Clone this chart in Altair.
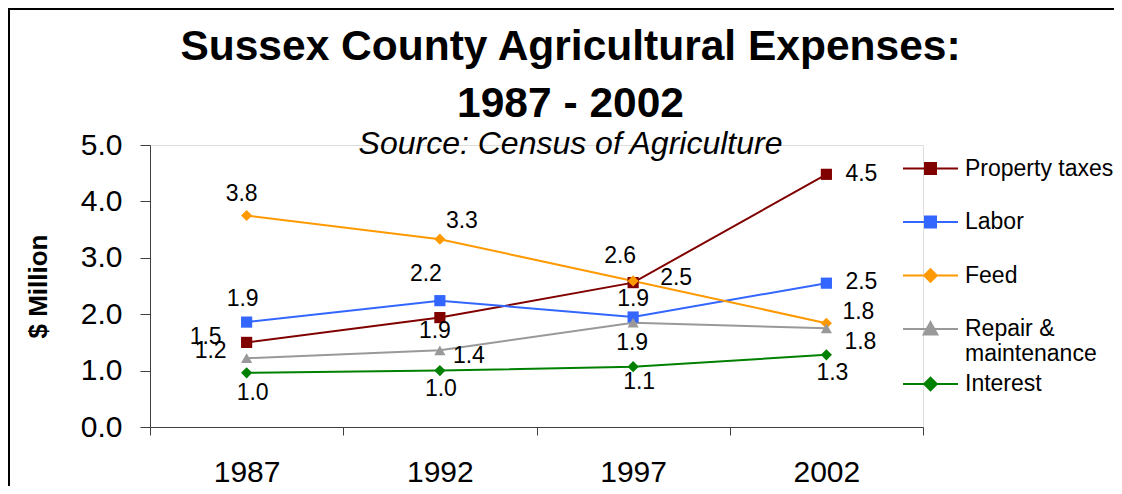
import altair as alt
import pandas as pd

years = ["1987", "1992", "1997", "2002"]
series = ["Property taxes", "Labor", "Feed", "Repair & maintenance", "Interest"]
property_taxes = [1.50, 1.94, 2.56, 4.48]
labor = [1.86, 2.24, 1.95, 2.55]
feed = [3.75, 3.33, 2.59, 1.84]
repair = [1.22, 1.36, 1.85, 1.75]
interest = [0.96, 1.00, 1.07, 1.28]
property_labels = ["1.5", "1.9", "2.5", "4.5"]
labor_labels = ["1.9", "2.2", "1.9", "2.5"]
feed_labels = ["3.8", "3.3", "2.6", "1.8"]
repair_labels = ["1.2", "1.4", "1.9", "1.8"]
interest_labels = ["1.0", "1.0", "1.1", "1.3"]

# styling (kept apart from the data)
colors = ["#800000", "#3366FF", "#FF9900", "#999999", "#008000"]
marker_shapes = ["square", "square", "diamond", "triangle-up", "diamond"]
marker_sizes = [125, 125, 165, 175, 165]
legend_shapes = [
    "M-1,0H1M-0.2,-0.2H0.2V0.2H-0.2Z",
    "M-1,0H1M-0.2,-0.2H0.2V0.2H-0.2Z",
    "M-1,0H1M0,-0.23L0.23,0L0,0.23L-0.23,0Z",
    "M-1,0H1M0,-0.25L0.25,0.2L-0.25,0.2Z",
    "M-1,0H1M0,-0.23L0.23,0L0,0.23L-0.23,0Z",
]
# data label placement offsets in pixels (dx, dy)
label_offsets = {
    "Property taxes": [(-41, -5), (-5, 13), (43, -5), (35, 0)],
    "Labor": [(-4, -23), (-14, -27), (0, -18), (35, -1)],
    "Feed": [(-5, -22), (22, -18), (-13, -25), (32, -11)],
    "Repair & maintenance": [(-36, -7), (29, 6), (-1, 20), (34, 14)],
    "Interest": [(6, 20), (1, 18), (6, 15), (6, 18)],
}

FONT = "Liberation Sans"

rows = []
for s, vals, labs in zip(
    series,
    [property_taxes, labor, feed, repair, interest],
    [property_labels, labor_labels, feed_labels, repair_labels, interest_labels],
):
    for i, yr in enumerate(years):
        rows.append({"series": s, "year": yr, "value": vals[i], "label": labs[i]})
df = pd.DataFrame(rows)

W, H = 773, 282

x_enc = alt.X(
    "year:N",
    sort=years,
    bandPosition=0.5,
    scale=alt.Scale(type="band", domain=years, paddingInner=0, paddingOuter=0),
    axis=alt.Axis(
        title=None,
        tickBand="extent",
        tickSize=8,
        labelFontSize=30,
        labelFont=FONT,
        labelColor="black",
        labelPadding=22,
        labelAngle=0,
        domainColor="#404040",
        tickColor="#404040",
        grid=False,
    ),
)
y_enc = alt.Y(
    "value:Q",
    scale=alt.Scale(domain=[0, 5], nice=False, zero=True),
    axis=alt.Axis(
        title="$ Million",
        values=[0, 1, 2, 3, 4, 5],
        format=".1f",
        tickSize=10,
        labelFontSize=30,
        labelFont=FONT,
        labelColor="black",
        labelPadding=18,
        titleFont=FONT,
        titleFontSize=26,
        titleFontWeight="bold",
        titleColor="black",
        titleX=-112,
        titleY=141,
        titleAngle=270,
        titleAlign="center",
        titleBaseline="middle",
        domainColor="#404040",
        tickColor="#404040",
        grid=False,
    ),
)
color_scale = alt.Scale(domain=series, range=colors)

base = alt.Chart(df)

lines = base.mark_line(strokeWidth=2).encode(
    x=x_enc, y=y_enc,
    color=alt.Color("series:N", scale=color_scale, legend=None),
    order=alt.Order("year:N"),
)

points = base.mark_point(filled=True, opacity=1).encode(
    x=x_enc, y=y_enc,
    color=alt.Color("series:N", scale=color_scale, legend=None),
    shape=alt.Shape("series:N", scale=alt.Scale(domain=series, range=marker_shapes), legend=None),
    size=alt.Size("series:N", scale=alt.Scale(domain=series, range=marker_sizes), legend=None),
)

text_layers = []
for s in series:
    for i, yr in enumerate(years):
        dx, dy = label_offsets[s][i]
        text_layers.append(
            base.transform_filter(
                (alt.datum.series == s) & (alt.datum.year == yr)
            ).mark_text(
                fontSize=23, font=FONT, color="black", align="center", baseline="middle", dx=dx, dy=dy
            ).encode(x=x_enc, y=y_enc, text="label:N")
        )


def legend_layer(names, legend_y):
    idx = [series.index(n) for n in names]
    dom = names
    cols = [colors[i] for i in idx]
    shp = [legend_shapes[i] for i in idx]
    leg = alt.Legend(
        title=None,
        orient="none",
        legendX=752,
        legendY=legend_y,
        symbolSize=3025,
        symbolStrokeWidth=2,
        labelFontSize=23,
        labelFont=FONT,
        labelColor="black",
        labelOffset=6,
        labelLimit=400,
        rowPadding=12.5,
        padding=0,
        labelExpr="datum.label == 'Repair & maintenance' ? ['Repair &', 'maintenance'] : datum.label",
    )
    return base.transform_filter("datum.value < 0").mark_point(filled=True, opacity=1).encode(
        x=x_enc, y=y_enc,
        fill=alt.Fill("series:N", scale=alt.Scale(domain=dom, range=cols), legend=leg),
        stroke=alt.Stroke("series:N", scale=alt.Scale(domain=dom, range=cols), legend=leg),
        shape=alt.Shape("series:N", scale=alt.Scale(domain=dom, range=shp), legend=leg),
    )


legend_main = legend_layer(series[:4], -5)
legend_last = legend_layer(series[4:], 210.5)

# outer chart frame (top and left edges, as in the reference)
frame_top = base.mark_rule(stroke="black", strokeWidth=2).encode(
    x=alt.value(-142), x2=alt.value(964), y=alt.value(-136)
)
frame_left = base.mark_rule(stroke="black", strokeWidth=2).encode(
    x=alt.value(-141), y=alt.value(-137), y2=alt.value(341)
)

chart = (
    alt.layer(frame_top, frame_left, lines, points, *text_layers, legend_main, legend_last)
    .resolve_scale(shape="independent", fill="independent", stroke="independent")
    .properties(
        width=W,
        height=H,
        autosize=alt.AutoSizeParams(type="none"),
        padding={"left": 142, "top": 137, "right": 191, "bottom": 59},
        title=alt.TitleParams(
            text=["Sussex County Agricultural Expenses:", "1987 - 2002"],
            subtitle="Source: Census of Agriculture",
            font=FONT,
            fontSize=42.5,
            fontWeight="bold",
            lineHeight=57,
            color="black",
            subtitleFont=FONT,
            subtitleFontSize=32,
            subtitleFontStyle="italic",
            subtitleFontWeight="normal",
            subtitleColor="black",
            subtitlePadding=4,
            anchor="middle",
            dx=34,
            offset=-153,
        ),
    )
    .configure_view(stroke=None)
    .configure(background="white")
)

chart.save("out.html", embed_options={"renderer": "svg", "actions": False})
